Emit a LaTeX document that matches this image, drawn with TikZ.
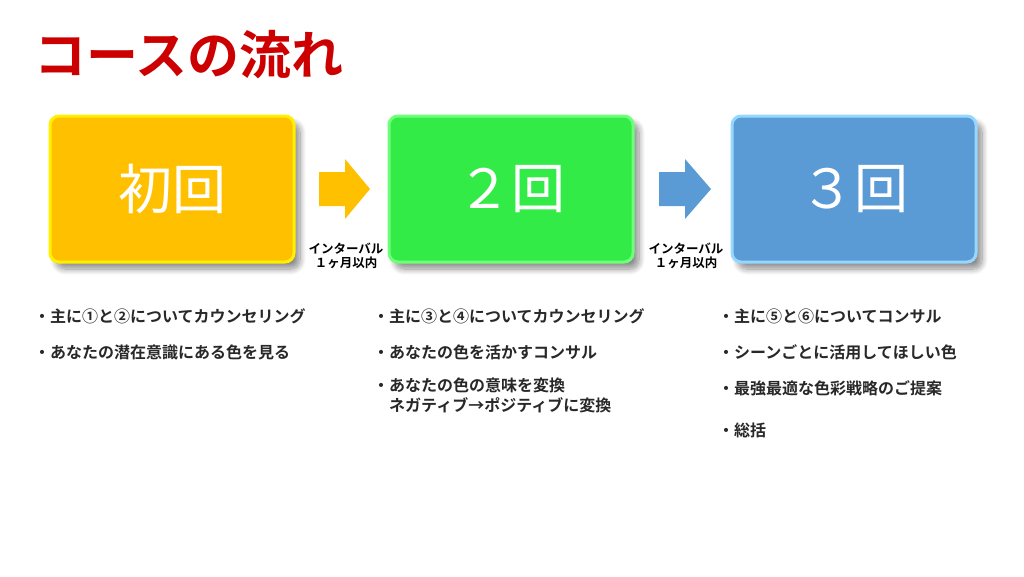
\documentclass[tikz,border=0pt]{standalone}
\usepackage{fontspec}
\newfontfamily\jp{Noto Sans CJK JP}
\newfontfamily\jpb{Noto Sans CJK JP Bold}
\usetikzlibrary{shadows.blur}
\definecolor{titlered}{RGB}{204,0,0}
\definecolor{c1}{RGB}{255,192,0}
\definecolor{g1}{RGB}{255,240,0}
\definecolor{c2}{RGB}{51,235,71}
\definecolor{g2}{RGB}{110,255,120}
\definecolor{c3}{RGB}{91,155,213}
\definecolor{g3}{RGB}{150,215,255}
\definecolor{txt}{RGB}{40,40,40}
\tikzset{
  stage/.style={rounded corners=9pt, minimum width=244pt, minimum height=146pt, line width=3pt,
    blur shadow={shadow xshift=6pt, shadow yshift=-7pt, shadow blur radius=6pt, shadow blur steps=10, shadow opacity=45},
    text=white, font=\jp\fontsize{54}{58}\selectfont},
  bul/.style={anchor=west, text=txt, font=\jpb\fontsize{16}{20}\selectfont, align=left, inner sep=0pt},
  gap/.style={font=\jpb\fontsize{12.5}{14}\selectfont, align=center, inner sep=0pt},
}
\begin{document}
\begin{tikzpicture}[x=1pt,y=-1pt]
\useasboundingbox (0,0) rectangle (1024,576);
\node[anchor=west, text=titlered, font=\jpb\fontsize{52}{56}\selectfont, inner sep=0pt] (title) at (34,55) {コースの流れ};
\node[stage, fill=c1, draw=g1] (s1) at (172,189) {初回};
\node[stage, fill=c2, draw=g2] (s2) at (511,189) {２回};
\node[stage, fill=c3, draw=g3] (s3) at (854,189) {３回};
\fill[c1] (319,172) -- (345,172) -- (345,159) -- (370,189) -- (345,219) -- (345,206) -- (319,206) -- cycle;
\fill[c3] (659,172) -- (685,172) -- (685,159) -- (711,189) -- (685,219) -- (685,206) -- (659,206) -- cycle;
\node[gap] (l1) at (346,256) {インターバル\\１ヶ月以内};
\node[gap] (l2) at (686,256) {インターバル\\１ヶ月以内};
\node[bul] (t11) at (34,316) {・主に①と②についてカウンセリング};
\node[bul] (t12) at (34,352) {・あなたの潜在意識にある色を見る};
\node[bul] (t21) at (373,316) {・主に③と④についてカウンセリング};
\node[bul] (t22) at (373,352) {・あなたの色を活かすコンサル};
\node[bul, anchor=north west] (t23) at (373,378) {・あなたの色の意味を変換\\\hspace*{1em}ネガティブ→ポジティブに変換};
\node[bul] (t31) at (718,316) {・主に⑤と⑥についてコンサル};
\node[bul] (t32) at (718,352) {・シーンごとに活用してほしい色};
\node[bul] (t33) at (718,388) {・最強最適な色彩戦略のご提案};
\node[bul] (t34) at (718,430) {・総括};
\end{tikzpicture}
\end{document}
